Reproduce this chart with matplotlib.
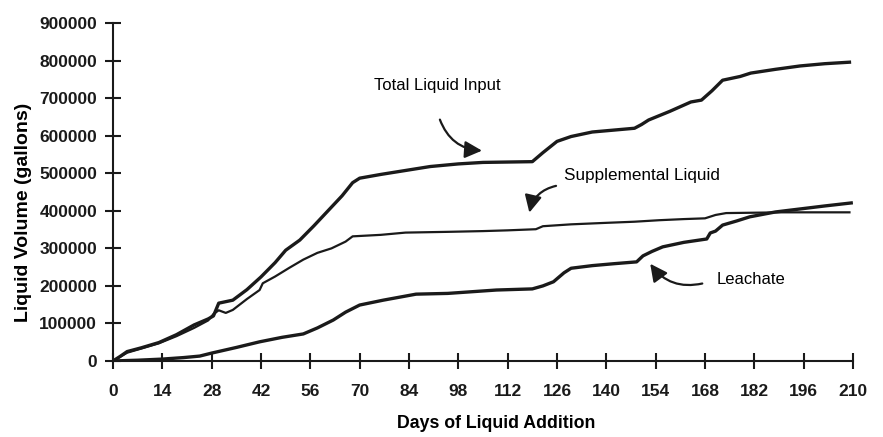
import numpy as np
import matplotlib.pyplot as plt

plt.rcParams['font.family'] = ['Liberation Sans', 'DejaVu Sans']

# cumulative volumes (gallons)
total_days = [0, 2, 4, 8, 13, 18, 23, 27, 28.5, 30, 34, 38, 42, 46, 49, 53, 57, 61, 65, 68,
              70, 76, 82, 90, 98, 105, 112, 119, 122, 126, 130, 136, 142, 148, 150, 152,
              158, 164, 167, 170, 173, 178, 181, 188, 195, 202, 209]
total_vol = [0, 12000, 25000, 35000, 49000, 70000, 96000, 112000, 120000, 154000, 162000,
             190000, 224000, 262000, 295000, 322000, 360000, 400000, 440000, 475000,
             487000, 497000, 506000, 518000, 525000, 529000, 530000, 531000, 555000,
             585000, 598000, 610000, 615000, 620000, 630000, 642000, 665000, 690000,
             695000, 720000, 748000, 758000, 767000, 777000, 786000, 792000, 796000]

supp_days = [0, 4, 8, 13, 18, 23, 27, 28.5, 30, 32, 34, 38, 41.6, 42.5, 46, 50, 54, 58, 62,
             66, 68, 70, 76, 83, 95, 105, 112, 120, 122, 130, 140, 148, 155, 162, 168, 171,
             174, 182, 190, 200, 209]
supp_vol = [0, 22000, 33000, 47000, 66000, 88000, 108000, 125000, 135000, 128000, 136000,
            165000, 189000, 207000, 225000, 248000, 270000, 288000, 300000, 318000, 332000,
            333000, 336000, 342000, 344000, 346000, 348000, 351000, 359000, 364000, 368000,
            371000, 375000, 378000, 380000, 389000, 394000, 395000, 396000, 396000, 396000]

leach_days = [0, 7, 14, 20, 24.6, 28, 35, 41.6, 48, 54, 58, 62.5, 66, 70, 76.7, 86, 95,
              108.8, 119, 122, 125, 128, 130, 136, 142, 148.6, 150.4, 153, 156, 162, 168.5,
              169.5, 171, 173, 177, 180.7, 188, 195, 202, 209.5]
leach_vol = [0, 2000, 5000, 9000, 13000, 21000, 36000, 51000, 63000, 72000, 88000, 109000,
             130000, 149000, 162000, 178000, 180000, 189000, 192000, 200000, 211000, 235000,
             247000, 254000, 259000, 264000, 280000, 292000, 304000, 316000, 325000, 341000,
             346000, 362000, 373000, 384000, 397000, 405000, 413000, 421000]

x_ticks = np.arange(0, 211, 14)
y_ticks = np.arange(0, 900001, 100000)

fig = plt.figure(figsize=(8.83, 4.37), dpi=100)
ax = fig.add_axes([0.128, 0.174, 0.838, 0.773])

ax.plot(total_days, total_vol, color='#1a1a1a', lw=2.4)
ax.plot(supp_days, supp_vol, color='#1a1a1a', lw=1.6)
ax.plot(leach_days, leach_vol, color='#1a1a1a', lw=2.4)

ax.set_xlim(0, 210)
ax.set_ylim(0, 900000)
ax.set_xticks(x_ticks)
ax.set_yticks(y_ticks)
ax.set_yticklabels([str(v) for v in y_ticks])
for s in ['top', 'right']:
    ax.spines[s].set_visible(False)
for s in ['left', 'bottom']:
    ax.spines[s].set_linewidth(1.5)
    ax.spines[s].set_color('#1a1a1a')
ax.tick_params(direction='inout', length=11, width=1.5, colors='#1a1a1a', labelsize=12.5)
ax.tick_params(axis='x', pad=11)
ax.tick_params(axis='y', pad=6)
for lab in ax.get_xticklabels() + ax.get_yticklabels():
    lab.set_fontweight('bold')

ax.set_xlabel('Days of Liquid Addition', fontsize=12.8, fontweight='bold')
ax.set_ylabel('Liquid Volume (gallons)', fontsize=14, fontweight='bold')
ax.xaxis.set_label_coords(0.518, -0.16)
ax.yaxis.set_label_coords(-0.11, 0.44)

# labels with curved arrows
arrow = dict(arrowstyle='-|>', color='#1a1a1a', lw=1.6, mutation_scale=26)
ax.text(92, 735000, 'Total Liquid Input', ha='center', va='center', fontsize=12)
ax.annotate('', xy=(105.5, 560000), xytext=(92.5, 650000),
            arrowprops=dict(arrow, connectionstyle='arc3,rad=0.35'))
ax.text(150, 493000, 'Supplemental Liquid', ha='center', va='center', fontsize=12.3)
ax.annotate('', xy=(118, 388000), xytext=(126.5, 468000),
            arrowprops=dict(arrow, connectionstyle='arc3,rad=0.35'))
ax.text(181, 216000, 'Leachate', ha='center', va='center', fontsize=12)
ax.annotate('', xy=(152, 265000), xytext=(168, 208000),
            arrowprops=dict(arrow, connectionstyle='arc3,rad=-0.35'))

fig.savefig('out.png', dpi=100, facecolor='white')
